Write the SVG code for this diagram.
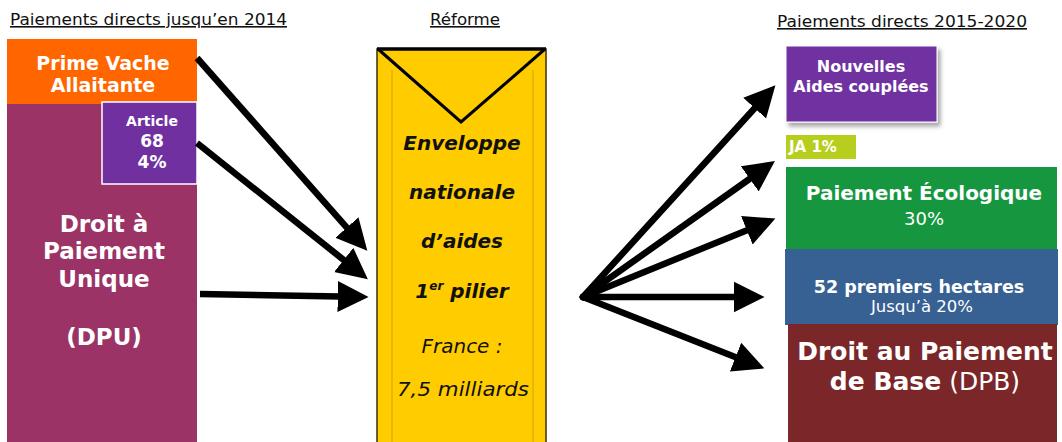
<svg xmlns="http://www.w3.org/2000/svg" width="1062" height="442" viewBox="0 0 1062 442">
  <defs>
    <style>
      text { font-family: "DejaVu Sans", Verdana, sans-serif; fill: #ffffff; text-anchor: middle; }
      .title { font-size: 16px; fill: #111111; text-decoration: underline; text-anchor: start; }
      .b { font-weight: bold; }
      .env { font-weight: bold; font-style: italic; font-size: 20px; fill: #111111; }
      .env2 { font-style: italic; font-size: 20px; fill: #111111; }
      .conn { stroke: #000000; stroke-width: 6.5; fill: none; marker-end: url(#head); }
    </style>
    <marker id="head" markerUnits="userSpaceOnUse" markerWidth="32" markerHeight="32" viewBox="0 -14 28 28" refX="2" refY="0" orient="auto">
      <path d="M0,-13.5 L27,0 L0,13.5 z" fill="#000000"/>
    </marker>
    <filter id="shadow" x="-10%" y="-10%" width="130%" height="140%">
      <feDropShadow dx="3" dy="4" stdDeviation="2" flood-color="#000000" flood-opacity="0.35"/>
    </filter>
  </defs>

  <rect width="1062" height="442" fill="#ffffff"/>

  <!-- column headings -->
  <text class="title" x="10" y="25" textLength="277" lengthAdjust="spacingAndGlyphs">Paiements directs jusqu’en 2014</text>
  <text class="title" x="430" y="25" textLength="70" lengthAdjust="spacingAndGlyphs">Réforme</text>
  <text class="title" x="777" y="27" textLength="250" lengthAdjust="spacingAndGlyphs">Paiements directs 2015-2020</text>

  <!-- left column: payments until 2014 -->
  <g id="dpu">
    <rect x="7" y="104" width="190" height="338" fill="#9B3366"/>
    <text class="b" font-size="23" x="104" y="232">Droit à</text>
    <text class="b" font-size="23" x="104" y="259">Paiement</text>
    <text class="b" font-size="23" x="104" y="287">Unique</text>
    <text class="b" font-size="23" x="104" y="345">(DPU)</text>
  </g>
  <g id="pva">
    <rect x="7" y="39" width="190" height="65" fill="#FF6600"/>
    <text class="b" font-size="19" x="103" y="70">Prime Vache</text>
    <text class="b" font-size="19" x="103" y="92">Allaitante</text>
  </g>
  <g id="article68">
    <rect x="102" y="102" width="95" height="82" fill="#7030A0" stroke="#ffffff" stroke-width="1.5"/>
    <text class="b" font-size="14" x="152" y="126">Article</text>
    <text class="b" font-size="17" x="152" y="147">68</text>
    <text class="b" font-size="17" x="152" y="168">4%</text>
  </g>

  <!-- national envelope -->
  <g id="enveloppe">
    <rect x="377" y="49" width="169" height="400" fill="#FFCC00" stroke="#3a3000" stroke-width="1.5"/>
    <line x1="392" y1="70" x2="392" y2="442" stroke="#E0B000" stroke-width="1.5"/>
    <line x1="533" y1="70" x2="533" y2="442" stroke="#E0B000" stroke-width="1.5"/>
    <line x1="377" y1="49" x2="546" y2="49" stroke="#000000" stroke-width="3.5"/>
    <polyline points="378,49 461,122 545,49" fill="none" stroke="#000000" stroke-width="3"/>
    <text class="env" x="462" y="150">Enveloppe</text>
    <text class="env" x="462" y="199">nationale</text>
    <text class="env" x="462" y="248">d’aides</text>
    <text class="env" x="462" y="298">1<tspan font-size="12" dy="-8">er</tspan><tspan dy="8"> pilier</tspan></text>
    <text class="env2" x="462" y="353">France :</text>
    <text class="env2" x="463" y="396" textLength="132" lengthAdjust="spacingAndGlyphs">7,5 milliards</text>
  </g>

  <!-- right column: payments 2015-2020 -->
  <g id="aides-couplees">
    <rect x="786" y="46" width="151" height="76" fill="#7030A0" stroke="#ffffff" stroke-width="1" filter="url(#shadow)"/>
    <text class="b" font-size="16" x="861" y="72">Nouvelles</text>
    <text class="b" font-size="16" x="861" y="92">Aides couplées</text>
  </g>
  <g id="ja">
    <rect x="786" y="135" width="70" height="24" fill="#B7CE1E"/>
    <text class="b" font-size="15" x="789" y="152" style="text-anchor:start">JA 1%</text>
  </g>
  <g id="ecologique">
    <rect x="786" y="167" width="271" height="83" fill="#16973F"/>
    <text class="b" font-size="20" x="924" y="200">Paiement Écologique</text>
    <text font-size="18" x="924" y="225">30%</text>
  </g>
  <g id="hectares">
    <rect x="785" y="249" width="273" height="76" fill="#386193"/>
    <text class="b" font-size="17.5" x="919" y="293">52 premiers hectares</text>
    <text font-size="16.5" x="922" y="312">Jusqu’à 20%</text>
  </g>
  <g id="dpb">
    <rect x="788" y="324" width="269" height="118" fill="#7B2628"/>
    <text class="b" font-size="25" x="925" y="360">Droit au Paiement</text>
    <text font-size="25" x="925" y="390"><tspan font-weight="bold">de Base</tspan> (DPB)</text>
  </g>

  <!-- arrows -->
  <g id="connectors">
    <line class="conn" x1="197" y1="58" x2="348.4" y2="229.3"/>
    <line class="conn" x1="197" y1="143" x2="345.5" y2="261.4"/>
    <line class="conn" x1="200" y1="294" x2="340" y2="296.5"/>
    <g stroke-linecap="round">
      <line class="conn" x1="583" y1="297" x2="756.2" y2="106.5"/>
      <line class="conn" x1="583" y1="297" x2="751.6" y2="177.5"/>
      <line class="conn" x1="583" y1="297" x2="748.9" y2="229.4"/>
      <line class="conn" x1="583" y1="297" x2="736" y2="297"/>
      <line class="conn" x1="583" y1="297" x2="737.7" y2="357.9"/>
    </g>
  </g>
</svg>
